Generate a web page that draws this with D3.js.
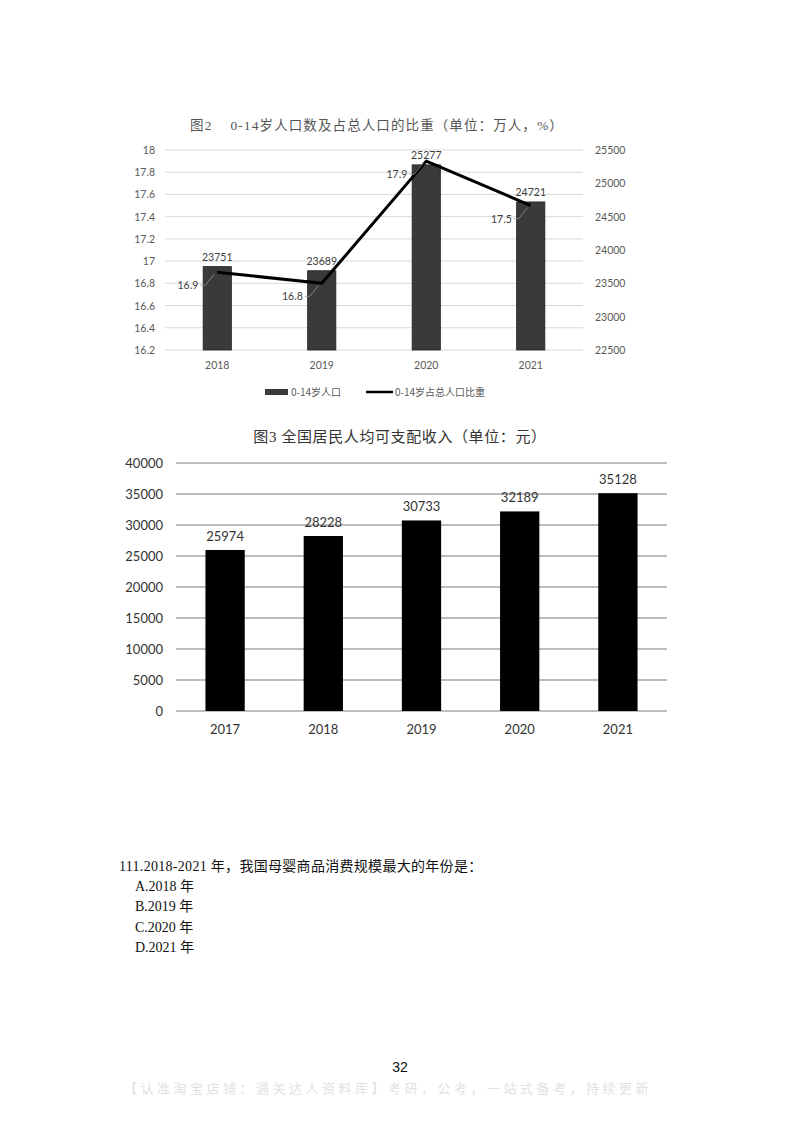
<!DOCTYPE html>
<html><head><meta charset="utf-8">
<script src="https://cdn.jsdelivr.net/npm/d3@7/dist/d3.min.js"></script>
<style>body{margin:0;background:#fff}svg{display:block}</style>
</head><body>
<svg id="c" width="800" height="1132"></svg>
<script>
// Figure 2 data
const years2 = ["2018","2019","2020","2021"];
const pop = [23751, 23689, 25277, 24721];
const share = [16.9, 16.8, 17.9, 17.5];
const leftTicks = [16.2,16.4,16.6,16.8,17,17.2,17.4,17.6,17.8,18];
const leftTickLabels = ["16.2","16.4","16.6","16.8","17","17.2","17.4","17.6","17.8","18"];
const rightTicks = [22500,23000,23500,24000,24500,25000,25500];
// Figure 3 data
const years3 = ["2017","2018","2019","2020","2021"];
const income = [25974, 28228, 30733, 32189, 35128];
const ticks3 = [0,5000,10000,15000,20000,25000,30000,35000,40000];

const numFont = "Lato, 'Open Sans', sans-serif";
const cjk = "'Noto Sans CJK SC', sans-serif";
const svg = d3.select("#c");

// ---------- Figure 2 ----------
const g2 = svg.append("g");
const x2 = d3.scaleBand().domain(years2).range([165,583]).paddingInner(0.73).paddingOuter(0.365);
const yL = d3.scaleLinear().domain([16.2,18]).range([350,150]);
const yR = d3.scaleLinear().domain([22500,25500]).range([350,150]);

g2.append("text").attr("x",377).attr("y",130).attr("text-anchor","middle")
  .attr("font-family","'Liberation Serif', 'Noto Sans CJK SC', serif").attr("font-size",13.5)
  .attr("letter-spacing",1.1).attr("fill","#555")
  .text("图2\u00a0\u00a0\u00a0\u00a00-14岁人口数及占总人口的比重（单位：万人，%）");

g2.selectAll(".gl").data(leftTicks).join("line")
  .attr("x1",165).attr("x2",583).attr("y1",d=>yL(d)).attr("y2",d=>yL(d))
  .attr("stroke","#d9d9d9").attr("stroke-width",1);

g2.selectAll(".lt").data(leftTicks).join("text")
  .attr("x",155).attr("y",d=>yL(d)+4).attr("text-anchor","end")
  .attr("font-family",numFont).attr("font-size",10.5).attr("fill","#595959")
  .text((d,i)=>leftTickLabels[i]);

g2.selectAll(".rt").data(rightTicks).join("text")
  .attr("x",595).attr("y",d=>yR(d)+4).attr("text-anchor","start")
  .attr("font-family",numFont).attr("font-size",10.5).attr("fill","#595959")
  .text(d=>d);

g2.selectAll(".bar").data(years2).join("rect")
  .attr("x",d=>x2(d)).attr("width",x2.bandwidth())
  .attr("y",(d,i)=>yR(pop[i])).attr("height",(d,i)=>yR(22500)-yR(pop[i]))
  .attr("fill","#3a3a3a").attr("stroke","#222").attr("stroke-width",0.8);

g2.selectAll(".bl").data(years2).join("text")
  .attr("x",d=>x2(d)+x2.bandwidth()/2).attr("y",(d,i)=>yR(pop[i])-6)
  .attr("text-anchor","middle").attr("font-family",numFont).attr("font-size",10.5).attr("fill","#404040")
  .text((d,i)=>pop[i]);

const cx2 = d=>x2(d)+x2.bandwidth()/2;
g2.append("path").datum(years2)
  .attr("d",d3.line().x(d=>cx2(d)).y((d,i)=>yL(share[i])))
  .attr("fill","none").attr("stroke","#000").attr("stroke-width",3).attr("stroke-linejoin","round");

// leader lines + labels
years2.forEach((d,i)=>{
  const px = cx2(d), py = yL(share[i]);
  g2.append("path")
    .attr("d",`M${px-17},${py+13}L${px-12},${py+13}L${px-3},${py+2}`)
    .attr("fill","none").attr("stroke","#999").attr("stroke-width",0.8);
  g2.append("text").attr("x",px-19).attr("y",py+17).attr("text-anchor","end")
    .attr("font-family",numFont).attr("font-size",10.5).attr("fill","#404040").text(share[i]);
});

g2.selectAll(".xl").data(years2).join("text")
  .attr("x",d=>cx2(d)).attr("y",369).attr("text-anchor","middle")
  .attr("font-family",numFont).attr("font-size",10.5).attr("fill","#595959").text(d=>d);

// legend
g2.append("rect").attr("x",265).attr("y",389).attr("width",23).attr("height",6).attr("fill","#3a3a3a");
g2.append("text").attr("x",291).attr("y",396).attr("font-family",cjk).attr("font-size",10).attr("fill","#595959").text("0-14岁人口");
g2.append("line").attr("x1",366).attr("x2",393).attr("y1",392).attr("y2",392).attr("stroke","#000").attr("stroke-width",2.5);
g2.append("text").attr("x",395).attr("y",396).attr("font-family",cjk).attr("font-size",10).attr("fill","#595959").text("0-14岁占总人口比重");

// ---------- Figure 3 ----------
const g3 = svg.append("g");
const x3 = d3.scaleBand().domain(years3).range([176,667]).paddingInner(0.6).paddingOuter(0.3);
const y3 = d3.scaleLinear().domain([0,40000]).range([711,463]);

g3.append("text").attr("x",400).attr("y",442).attr("text-anchor","middle")
  .attr("font-family","'Liberation Serif', 'Noto Sans CJK SC', serif").attr("font-size",15)
  .attr("letter-spacing",0.6).attr("fill","#333")
  .text("图3 全国居民人均可支配收入（单位：元）");

g3.selectAll(".gl").data(ticks3).join("line")
  .attr("x1",176).attr("x2",667).attr("y1",d=>y3(d)).attr("y2",d=>y3(d))
  .attr("stroke","#a6a6a6").attr("stroke-width",1.5);

g3.selectAll(".yt").data(ticks3).join("text")
  .attr("x",163).attr("y",d=>y3(d)+5).attr("text-anchor","end")
  .attr("font-family",numFont).attr("font-size",13).attr("fill","#333").text(d=>d);

g3.selectAll(".bar").data(years3).join("rect")
  .attr("x",d=>x3(d)).attr("width",x3.bandwidth())
  .attr("y",(d,i)=>y3(income[i])).attr("height",(d,i)=>y3(0)-y3(income[i]))
  .attr("fill","#000");

g3.selectAll(".bl").data(years3).join("text")
  .attr("x",d=>x3(d)+x3.bandwidth()/2).attr("y",(d,i)=>y3(income[i])-9)
  .attr("text-anchor","middle").attr("font-family",numFont).attr("font-size",13).attr("fill","#333")
  .text((d,i)=>income[i]);

g3.selectAll(".xl").data(years3).join("text")
  .attr("x",d=>x3(d)+x3.bandwidth()/2).attr("y",734).attr("text-anchor","middle")
  .attr("font-family",numFont).attr("font-size",13).attr("fill","#333").text(d=>d);

// ---------- Question text ----------
const qf = "'Liberation Serif', 'Noto Sans CJK SC', serif";
svg.append("text").attr("x",119).attr("y",871).attr("font-family",qf).attr("font-size",14).attr("letter-spacing",0.3).attr("fill","#111")
  .text("111.2018-2021 年，我国母婴商品消费规模最大的年份是：");
["A.2018 年","B.2019 年","C.2020 年","D.2021 年"].forEach((t,i)=>{
  svg.append("text").attr("x",135).attr("y",891+i*20.3).attr("font-family",qf).attr("font-size",14).attr("fill","#111").text(t);
});

svg.append("text").attr("x",400).attr("y",1072).attr("text-anchor","middle")
  .attr("font-family","'Liberation Sans', Arial, sans-serif").attr("font-size",14).attr("fill","#111").text("32");

svg.append("text").attr("x",388).attr("y",1093).attr("text-anchor","middle")
  .attr("font-family",cjk).attr("font-size",13).attr("letter-spacing",3.5).attr("fill","#e2e2e2")
  .text("【认准淘宝店铺：通关达人资料库】考研，公考，一站式备考，持续更新");
</script>
</body></html>
